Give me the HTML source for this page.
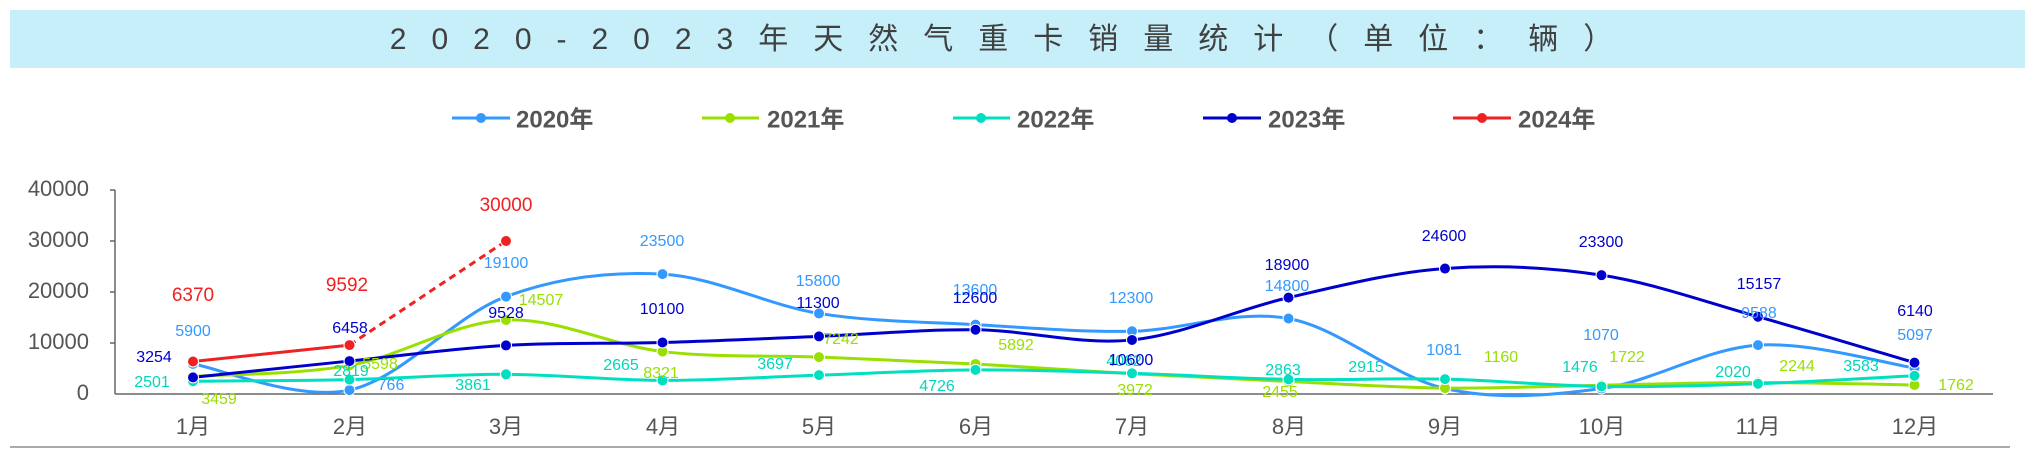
<!DOCTYPE html>
<html><head><meta charset="utf-8"><style>
html,body{margin:0;padding:0;background:#fff;}
svg{display:block;font-family:"Liberation Sans","Noto Sans CJK SC",sans-serif;}
</style></head><body>
<svg id="s" width="2028" height="449" viewBox="0 0 2028 449" xmlns="http://www.w3.org/2000/svg">
<rect x="10" y="10" width="2015" height="58" fill="#c6eff9"/>
<text x="1014" y="41" text-anchor="middle" dominant-baseline="middle" font-size="30" fill="#404040" letter-spacing="25">2020-2023年天然气重卡销量统计（单位：辆）</text>
<g font-size="24" font-weight="bold" fill="#555" dominant-baseline="middle">
<line x1="452" y1="118" x2="510" y2="118" stroke="#3399ff" stroke-width="3"/><circle cx="481" cy="118" r="5" fill="#3399ff"/><text x="516" y="121">2020年</text>
<line x1="702" y1="118" x2="759" y2="118" stroke="#99e000" stroke-width="3"/><circle cx="730" cy="118" r="5" fill="#99e000"/><text x="767" y="121">2021年</text>
<line x1="953" y1="118" x2="1010" y2="118" stroke="#00e0c0" stroke-width="3"/><circle cx="981" cy="118" r="5" fill="#00e0c0"/><text x="1017" y="121">2022年</text>
<line x1="1203" y1="118" x2="1261" y2="118" stroke="#0000cc" stroke-width="3"/><circle cx="1232" cy="118" r="5" fill="#0000cc"/><text x="1268" y="121">2023年</text>
<line x1="1453" y1="118" x2="1511" y2="118" stroke="#ee2222" stroke-width="3"/><circle cx="1482" cy="118" r="5" fill="#ee2222"/><text x="1518" y="121">2024年</text>
</g>
<g font-size="22" fill="#555" text-anchor="end" dominant-baseline="middle">
<text x="89" y="190">40000</text><text x="89" y="241">30000</text><text x="89" y="292">20000</text><text x="89" y="343">10000</text><text x="89" y="394">0</text>
</g>
<g stroke="#666" stroke-width="1.5">
<line x1="115" y1="190" x2="115" y2="394"/><line x1="115" y1="394" x2="1993" y2="394"/>
<line x1="110" y1="190" x2="115" y2="190"/><line x1="110" y1="241" x2="115" y2="241"/><line x1="110" y1="292" x2="115" y2="292"/><line x1="110" y1="343" x2="115" y2="343"/>
</g>
<line x1="10" y1="447" x2="2010" y2="447" stroke="#aaa" stroke-width="2"/>
<g font-size="22" fill="#555" text-anchor="middle" dominant-baseline="middle">
<text x="193" y="428">1月</text><text x="350" y="428">2月</text><text x="506" y="428">3月</text><text x="663" y="428">4月</text><text x="819" y="428">5月</text><text x="976" y="428">6月</text><text x="1132" y="428">7月</text><text x="1289" y="428">8月</text><text x="1445" y="428">9月</text><text x="1602" y="428">10月</text><text x="1758" y="428">11月</text><text x="1915" y="428">12月</text>
</g>
<g id="lines"></g>
<g font-size="16" text-anchor="middle" dominant-baseline="middle">
<g fill="#ee2222" font-size="19"><text x="193" y="296">6370</text><text x="347" y="286">9592</text><text x="506" y="206">30000</text></g>
<g fill="#3399ff"><text x="193" y="332">5900</text><text x="391" y="386">766</text><text x="506" y="264">19100</text><text x="662" y="242">23500</text><text x="818" y="282">15800</text><text x="975" y="291">13600</text><text x="1131" y="299">12300</text><text x="1287" y="287">14800</text><text x="1444" y="351">1081</text><text x="1601" y="336">1070</text><text x="1759" y="314">9588</text><text x="1915" y="336">5097</text></g>
<g fill="#99e000"><text x="219" y="400">3459</text><text x="380" y="365">5598</text><text x="541" y="301">14507</text><text x="661" y="374">8321</text><text x="841" y="340">7242</text><text x="1016" y="346">5892</text><text x="1135" y="391">3972</text><text x="1280" y="393">2455</text><text x="1501" y="358">1160</text><text x="1627" y="358">1722</text><text x="1797" y="367">2244</text><text x="1956" y="386">1762</text></g>
<g fill="#00d8b8"><text x="152" y="383">2501</text><text x="351" y="372">2819</text><text x="473" y="386">3861</text><text x="621" y="366">2665</text><text x="775" y="365">3697</text><text x="937" y="387">4726</text><text x="1124" y="362">4062</text><text x="1283" y="371">2863</text><text x="1366" y="368">2915</text><text x="1580" y="368">1476</text><text x="1733" y="373">2020</text><text x="1861" y="367">3583</text></g>
<g fill="#0000cc"><text x="154" y="358">3254</text><text x="350" y="329">6458</text><text x="506" y="314">9528</text><text x="662" y="310">10100</text><text x="818" y="304">11300</text><text x="975" y="299">12600</text><text x="1131" y="361">10600</text><text x="1287" y="266">18900</text><text x="1444" y="237">24600</text><text x="1601" y="243">23300</text><text x="1759" y="285">15157</text><text x="1915" y="312">6140</text></g>
</g>
</svg>
<script>
(function(){
var X=function(i){return 193+i*156.5;},Y=function(v){return 394-v*0.0051;};
var S=[["#3399ff",[5900,766,19100,23500,15800,13600,12300,14800,1081,1070,9588,5097]],
["#99e000",[3459,5598,14507,8321,7242,5892,3972,2455,1160,1722,2244,1762]],
["#00e0c0",[2501,2819,3861,2665,3697,4726,4062,2863,2915,1476,2020,3583]],
["#0000cc",[3254,6458,9528,10100,11300,12600,10600,18900,24600,23300,15157,6140]]];
var g=document.getElementById('lines'),h='';
S.forEach(function(s){var p=s[1].map(function(v,i){return [X(i),Y(v)];});
var d='M'+p[0][0]+','+p[0][1];
for(var i=0;i<p.length-1;i++){var p0=p[i-1]||p[i],p1=p[i],p2=p[i+1],p3=p[i+2]||p2;
d+=' C'+(p1[0]+(p2[0]-p0[0])/6)+','+(p1[1]+(p2[1]-p0[1])/6)+' '+(p2[0]-(p3[0]-p1[0])/6)+','+(p2[1]-(p3[1]-p1[1])/6)+' '+p2[0]+','+p2[1];}
h+='<path d="'+d+'" fill="none" stroke="'+s[0]+'" stroke-width="3"/>';
p.forEach(function(q){h+='<circle cx="'+q[0]+'" cy="'+q[1]+'" r="5.5" fill="'+s[0]+'" stroke="#fff" stroke-width="1"/>';});});
var r=[[X(0),Y(6370)],[X(1),Y(9592)],[X(2),Y(30000)]];
h+='<line x1="'+r[0][0]+'" y1="'+r[0][1]+'" x2="'+r[1][0]+'" y2="'+r[1][1]+'" stroke="#ee2222" stroke-width="3"/>';
h+='<line x1="'+r[1][0]+'" y1="'+r[1][1]+'" x2="'+r[2][0]+'" y2="'+r[2][1]+'" stroke="#ee2222" stroke-width="3" stroke-dasharray="7,5"/>';
r.forEach(function(q){h+='<circle cx="'+q[0]+'" cy="'+q[1]+'" r="5.5" fill="#ee2222" stroke="#fff" stroke-width="1"/>';});
g.innerHTML=h;})();
</script>
</body></html>
